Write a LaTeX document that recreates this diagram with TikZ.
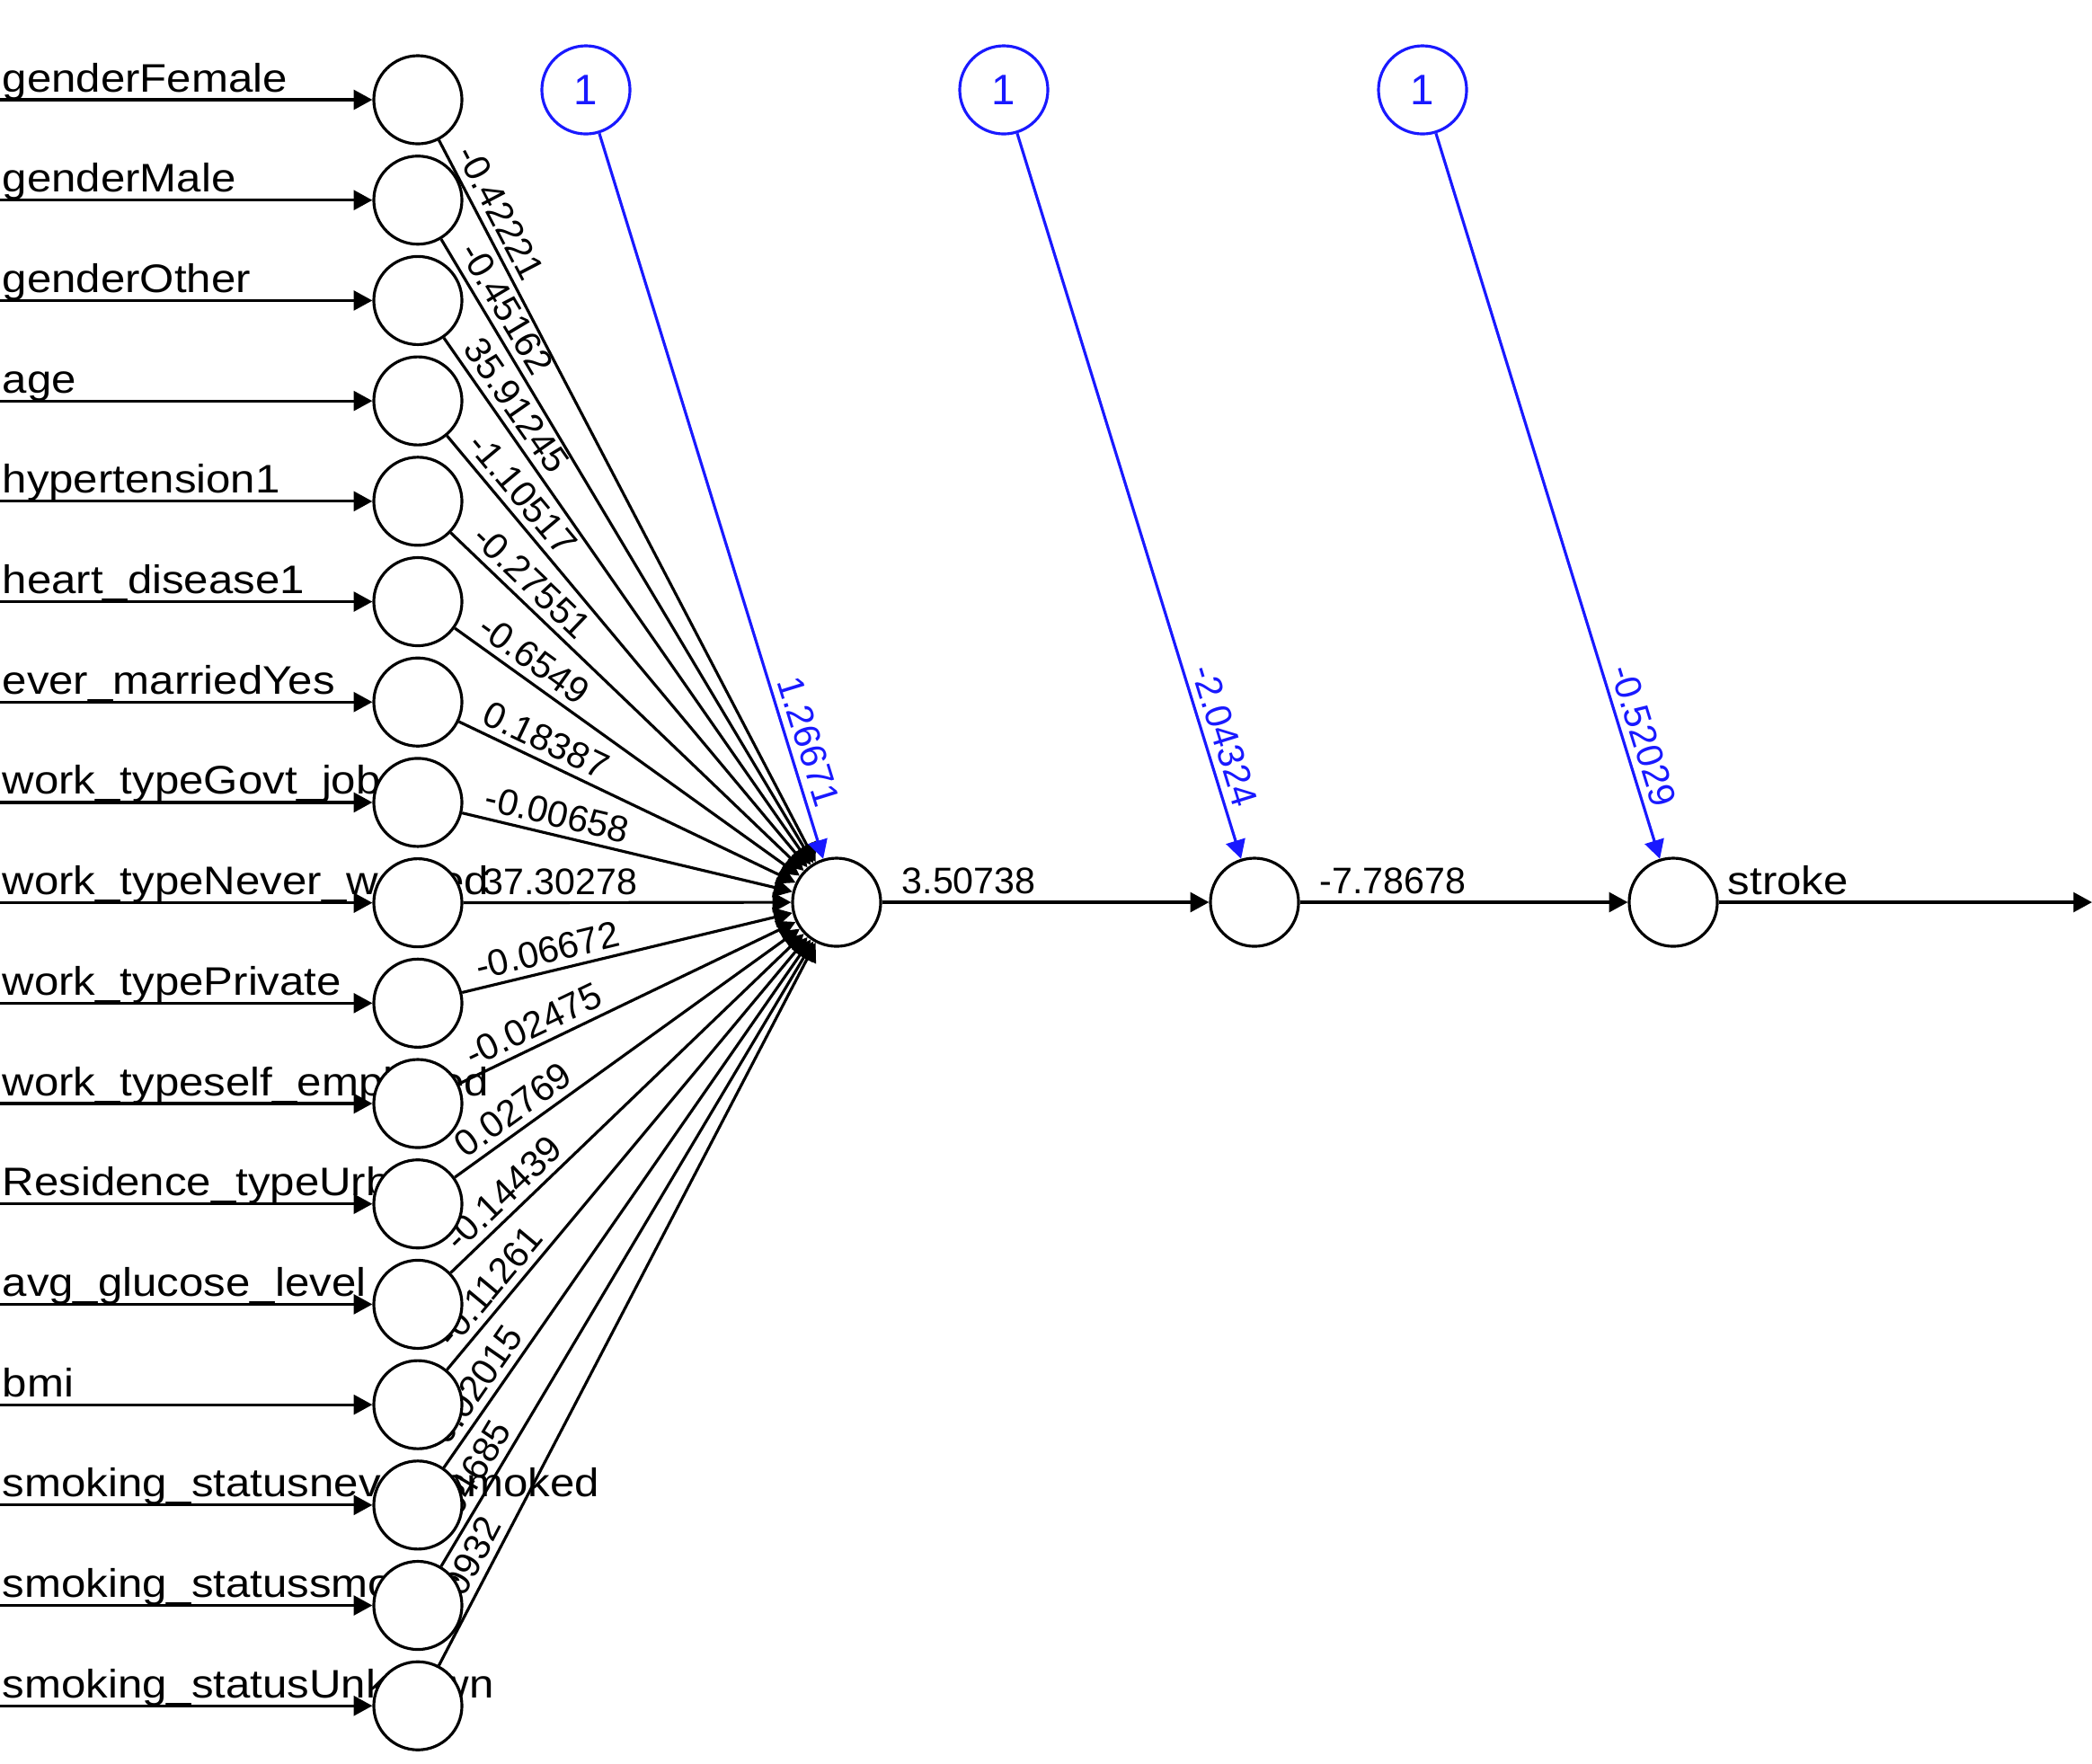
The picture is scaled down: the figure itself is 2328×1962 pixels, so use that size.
\documentclass[tikz,border=0pt]{standalone}
\usepackage{fontspec}
\setmainfont{Liberation Sans}
\newfontfamily\widefont{Liberation Sans}[FakeStretch=1.11]
\usetikzlibrary{arrows.meta,calc,backgrounds}
\definecolor{biasblue}{RGB}{25,25,255}
\begin{document}
\begin{tikzpicture}[x=0.01cm,y=-0.01cm,
  neuron/.style={circle,draw=black,line width=0.9pt,minimum size=0.98cm,inner sep=0pt,fill=white},
  biasnode/.style={neuron,draw=biasblue,text=biasblue,font=\fontsize{13.5}{15}\selectfont},
  conn/.style={line width=0.9pt,-{Triangle[length=5.9pt,width=6.2pt]}},
  bconn/.style={conn,draw=biasblue,fill=biasblue},
  inlabel/.style={anchor=base west,inner sep=0pt,font=\widefont\fontsize{12.6}{14}\selectfont},
  wlabel/.style={anchor=south west,inner xsep=0pt,inner ysep=2.3pt,font=\fontsize{11.7}{13}\selectfont},
  blabel/.style={wlabel,anchor=south east,text=biasblue},
]
\useasboundingbox (0,0) rectangle (2328,1962);
% input neurons
\foreach \i in {1,...,17}{
  \node[neuron] (in\i) at (465,{111+(\i-1)*111.7}) {};
}
% hidden, output and bias neurons
\node[neuron] (h1) at (931,1004) {};
\node[neuron] (h2) at (1396,1004) {};
\node[neuron] (out) at (1862,1004) {};
\node[biasnode] (b1) at (652,100) {1};
\node[biasnode] (b2) at (1117,100) {1};
\node[biasnode] (b3) at (1583,100) {1};
\coordinate (e) at (2328,1004);

\begin{scope}[on background layer]
\foreach \i/\name/\w in {
  1/genderFemale/-0.42221,
  2/genderMale/-0.45162,
  3/genderOther/35.91245,
  4/age/-1.10517,
  5/hypertension1/-0.27551,
  6/heart\_disease1/-0.6549,
  7/ever\_marriedYes/0.18387,
  8/work\_typeGovt\_job/-0.00658,
  9/work\_typeNever\_worked/37.30278,
  10/work\_typePrivate/-0.06672,
  11/work\_typeself\_employed/-0.02475,
  12/Residence\_typeUrban/0.02769,
  13/avg\_glucose\_level/-0.14439,
  14/bmi/-0.11261,
  15/smoking\_statusnever\_smoked/0.02015,
  16/smoking\_statussmokes/0.04685,
  17/smoking\_statusUnknown/0.00932}{
  \coordinate (s\i) at (0,{111+(\i-1)*111.7});
  \draw[conn] (s\i) -- (in\i);
  \node[inlabel] (t\i) at ($(s\i)+(2,-9)$) {\name};
  \draw[conn] (in\i) -- (h1);
  \path let \p1=($(h1)-(in\i)$), \n1={atan2(\y1,\x1)} in
    node[wlabel,rotate=\n1] (w\i) at ($(in\i)!0.72cm!(h1)$) {\w};
}
% hidden to output
\draw[conn] (h1) -- (h2);
\node[wlabel] (wh1) at ($(h1)!0.72cm!(h2)$) {3.50738};
\draw[conn] (h2) -- (out);
\node[wlabel] (wh2) at ($(h2)!0.72cm!(out)$) {-7.78678};
\draw[conn] (out) -- (e);
\node[inlabel] (tout) at (1922,995) {stroke};
% bias connections
\draw[bconn] (b1) -- (h1);
\path let \p1=($(h1)-(b1)$), \n1={atan2(\y1,\x1)} in
  node[blabel,rotate=\n1] (wb1) at ($(h1)!1.05cm!(b1)$) {1.26671};
\draw[bconn] (b2) -- (h2);
\path let \p1=($(h2)-(b2)$), \n1={atan2(\y1,\x1)} in
  node[blabel,rotate=\n1] (wb2) at ($(h2)!1.05cm!(b2)$) {-2.04324};
\draw[bconn] (b3) -- (out);
\path let \p1=($(out)-(b3)$), \n1={atan2(\y1,\x1)} in
  node[blabel,rotate=\n1] (wb3) at ($(out)!1.05cm!(b3)$) {-0.52029};
\end{scope}
\end{tikzpicture}
\end{document}
